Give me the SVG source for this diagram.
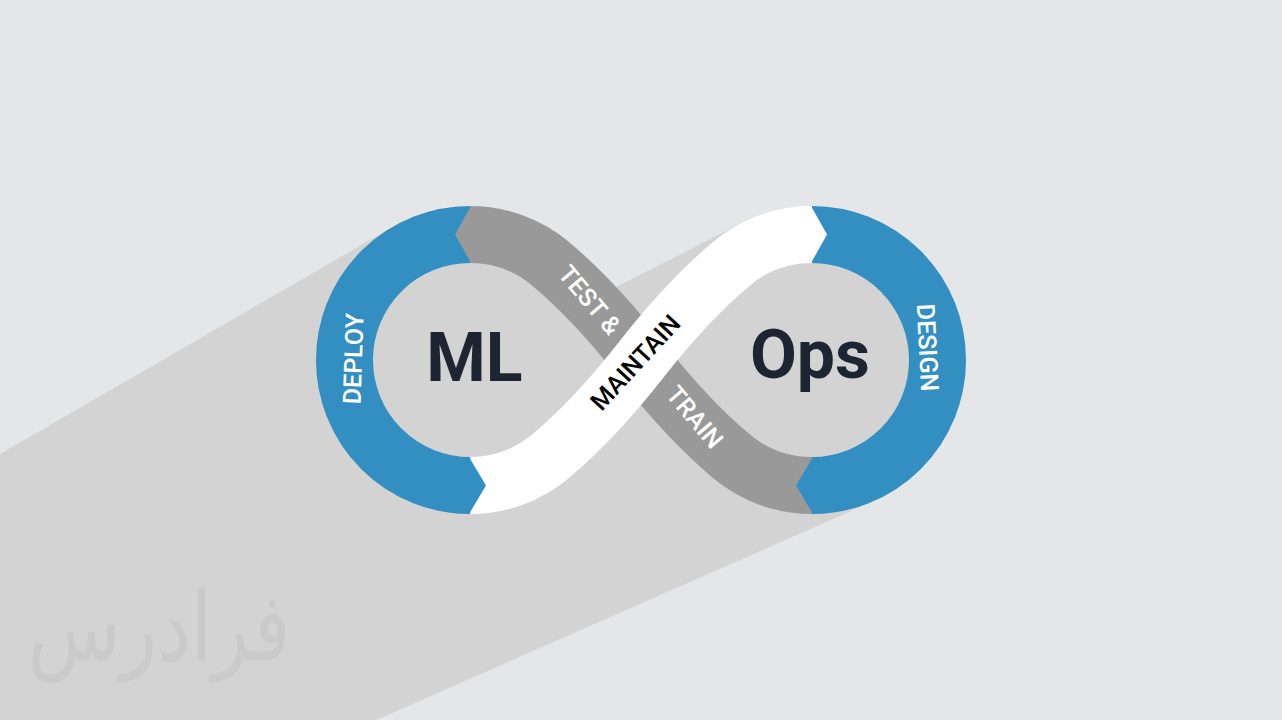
<svg xmlns="http://www.w3.org/2000/svg" width="1282" height="720" viewBox="0 0 1282 720">
  <style>
    .band { fill: none; stroke-width: 57; stroke-linecap: butt; }
    .blue { stroke: #338ec1; }
    .grey { stroke: #999999; }
    .white { stroke: #ffffff; }
    .lbl { font-family: Roboto, "Liberation Sans", sans-serif; font-size: 25px; font-weight: 500; text-anchor: middle; }
    .big { font-family: Roboto, "Liberation Sans", sans-serif; font-size: 68px; font-weight: 700; fill: #1e2532; text-anchor: middle; }
  </style>
  <rect x="0" y="0" width="1282" height="720" fill="#e5e6e8"/>
  <g id="shadow">
    <polygon fill="#d3d3d3" points="0,454 392.6,226.9 470,220 540,240 600,295.3 741.3,223.2 812,230 920,300 940,400 874,501 376.5,720 0,720"/>
  </g>
  <g id="watermark">
    <text transform="translate(159,660) scale(0.8,1)" font-family="'DejaVu Sans', 'Noto Sans', sans-serif" font-size="95" fill="#cacaca" text-anchor="middle">فرادرس</text>
  </g>
  <g id="connectors">
    <path id="deploy-arc" class="band blue" d="M 470,234.5 A 125.5 125.5 0 0 0 470,485.5"/>
    <path id="design-arc" class="band blue" d="M 812,234.5 A 125.5 125.5 0 0 1 812,485.5"/>
    <path id="test-train-band" class="band grey" d="M 470,234.5 A 125.5 125.5 0 0 1 550.67,263.86 C 585.1,292.8 613.3,324.5 641,360 C 668.7,395.5 696.9,427.2 731.33,456.14 A 125.5 125.5 0 0 0 812,485.5"/>
    <path id="maintain-band" class="band white" d="M 470,485.5 A 125.5 125.5 0 0 0 550.67,456.14 C 585.1,427.2 613.3,395.5 641,360 C 668.7,324.5 696.9,292.8 731.33,263.86 A 125.5 125.5 0 0 1 812,234.5"/>
    <polygon fill="#999999" points="471,206 455,234.5 471,263"/>
    <polygon fill="#338ec1" points="469,457 486,485.5 469,514"/>
    <polygon fill="#ffffff" points="811,206 827,234.5 811,263"/>
    <polygon fill="#338ec1" points="813,457 796,485.5 813,514"/>
  </g>
  <g id="node-ml">
    <text class="big" x="474.5" y="380.5">ML</text>
  </g>
  <g id="node-ops">
    <text class="big" x="810" y="377.5">Ops</text>
  </g>
  <g id="node-deploy">
    <text class="lbl" fill="#ffffff" transform="translate(362,359) rotate(-88)">DEPLOY</text>
  </g>
  <g id="node-design">
    <text class="lbl" fill="#ffffff" transform="translate(919,348) rotate(87)">DESIGN</text>
  </g>
  <g id="node-test">
    <text class="lbl" fill="#ffffff" transform="translate(583.2,305.7) rotate(50)">TEST &amp;</text>
  </g>
  <g id="node-train">
    <text class="lbl" fill="#ffffff" transform="translate(688.2,422.7) rotate(50)">TRAIN</text>
  </g>
  <g id="node-maintain">
    <text class="lbl" fill="#000000" transform="translate(641.7,368.3) rotate(-47.3)">MAINTAIN</text>
  </g>
</svg>
